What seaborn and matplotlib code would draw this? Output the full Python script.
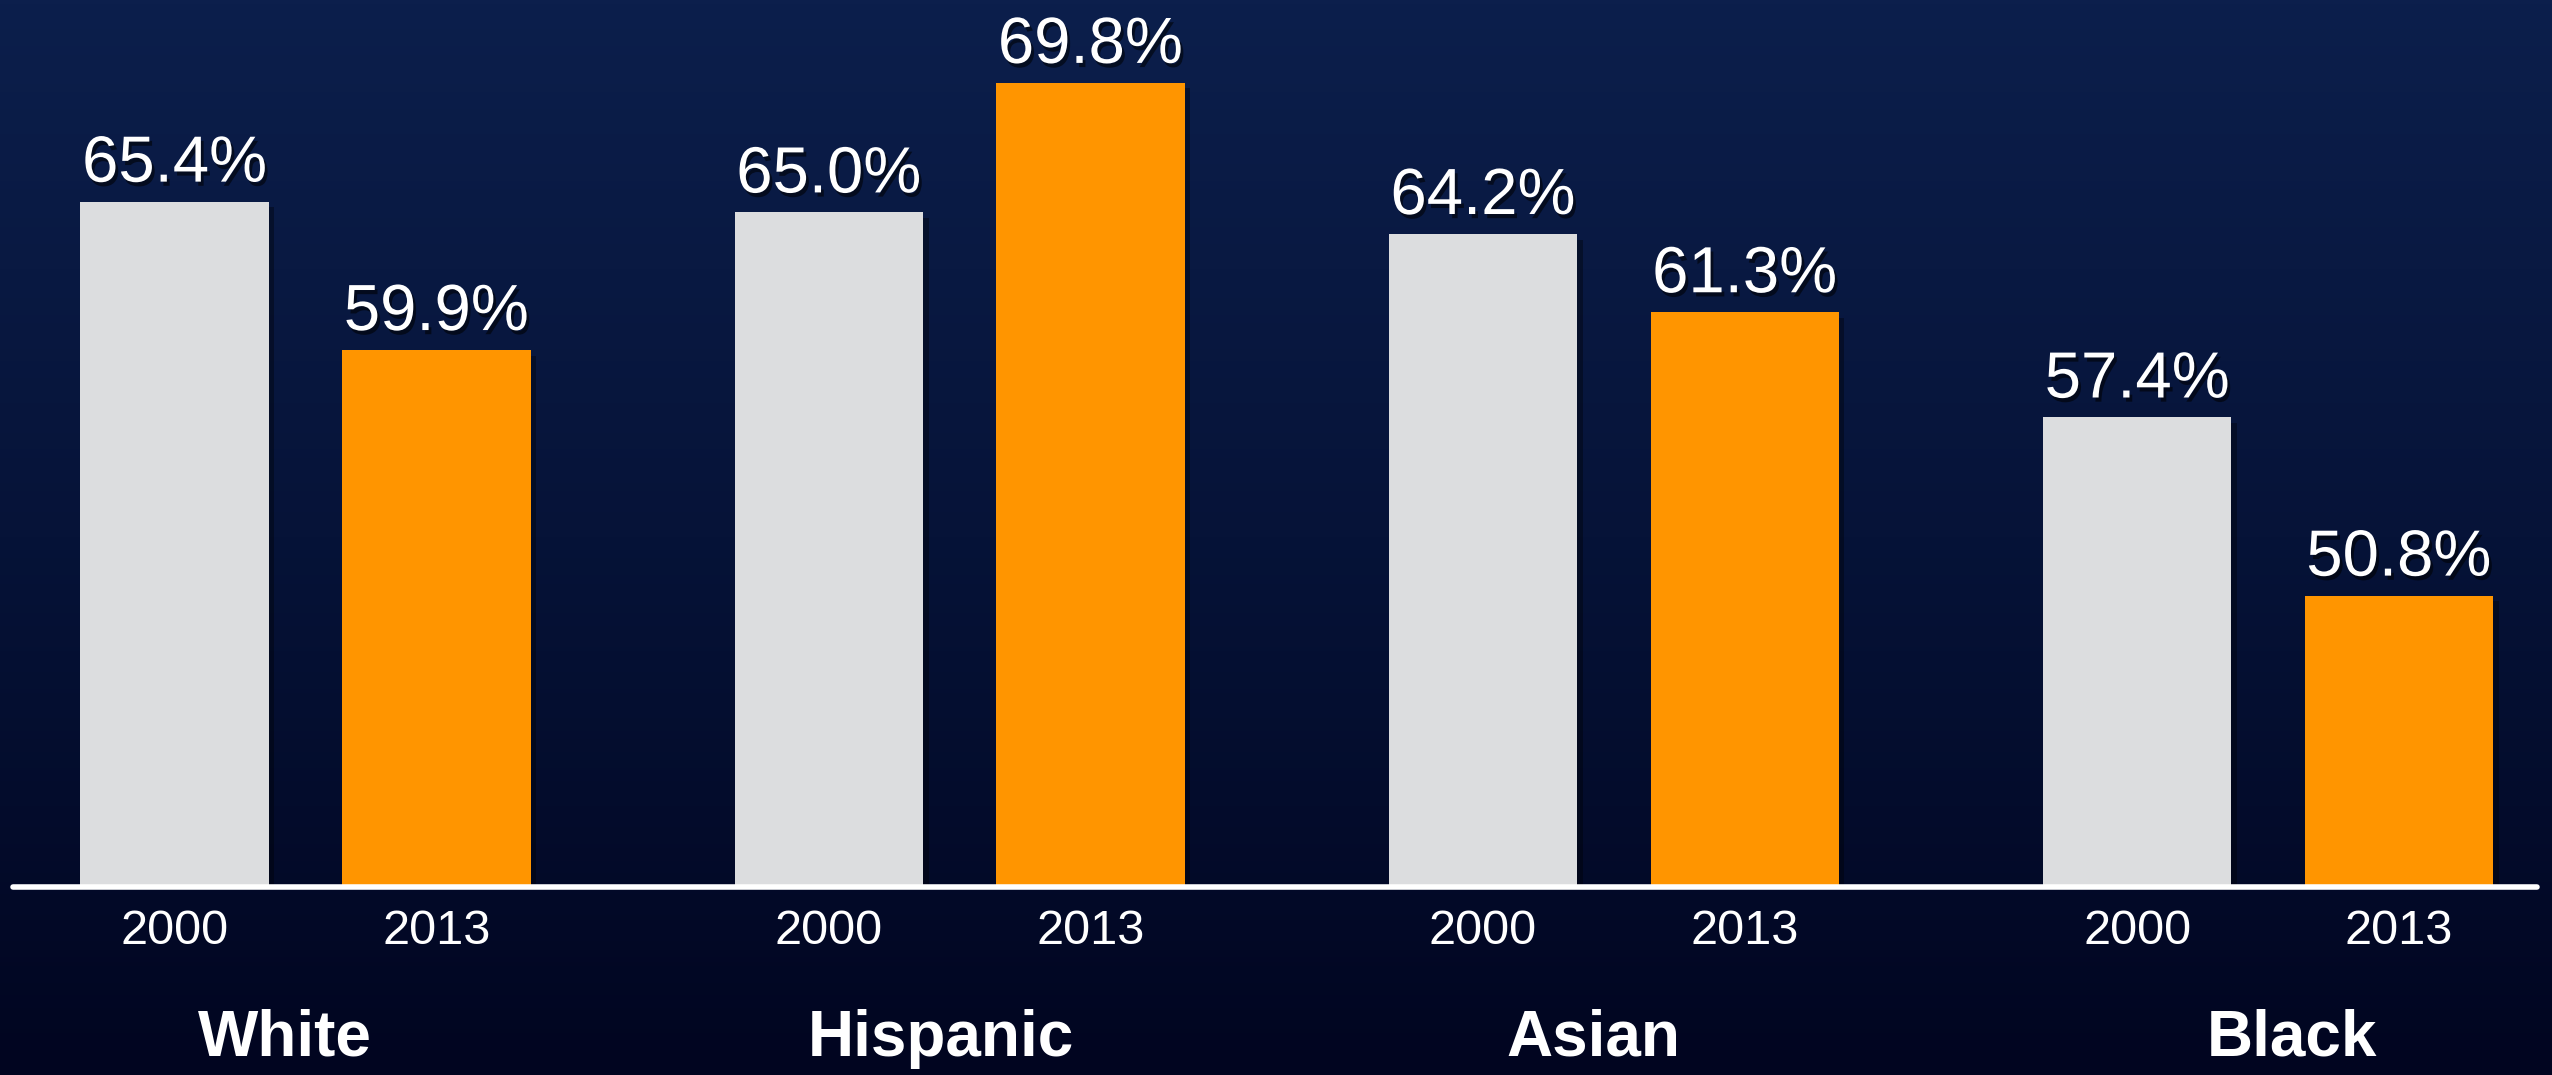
import numpy as np
import pandas as pd
import seaborn as sns
import matplotlib.pyplot as plt
import matplotlib.patheffects as pe
from matplotlib.colors import LinearSegmentedColormap
from matplotlib.transforms import blended_transform_factory

groups = ["White", "Hispanic", "Asian", "Black"]
years = ["2000", "2013"]
values_2000 = [65.4, 65.0, 64.2, 57.4]
values_2013 = [59.9, 69.8, 61.3, 50.8]
colors = {"2000": "#dcdddf", "2013": "#ff9500"}

df = pd.DataFrame({
    "group": groups * 2,
    "year": ["2000"] * len(groups) + ["2013"] * len(groups),
    "value": values_2000 + values_2013,
})

sns.set_theme(style="white")
plt.rcParams["font.family"] = ["Liberation Sans", "DejaVu Sans"]

fig = plt.figure(figsize=(25.52, 10.75), dpi=100)

# gradient background
bg = fig.add_axes([0, 0, 1, 1], zorder=0)
cmap = LinearSegmentedColormap.from_list("bg", ["#0c1f4c", "#061338", "#010520"])
bg.imshow(np.linspace(0, 1, 256).reshape(-1, 1), aspect="auto", cmap=cmap,
          extent=[0, 1, 0, 1], origin="upper")
bg.set_axis_off()

ax = fig.add_axes([0, 0.1749, 1, 0.8251], zorder=1)
ax.patch.set_alpha(0)

sns.barplot(data=df, x="group", y="value", hue="year", hue_order=years,
            palette=colors, width=0.8, gap=0.28, saturation=1,
            legend=False, ax=ax)

ax.set_ylim(40, 72.87)
ax.set_xlim(-0.467, 3.434)
ax.set_xticks([])
ax.set_yticks([])
ax.set_xlabel("")
ax.set_ylabel("")
for s in ax.spines.values():
    s.set_visible(False)

shadow = [pe.SimplePatchShadow(offset=(2, -3), shadow_rgbFace="black", alpha=0.55), pe.Normal()]
bar_shadow = [pe.SimplePatchShadow(offset=(4, -4), shadow_rgbFace="black", alpha=0.35), pe.Normal()]

trans = blended_transform_factory(ax.transData, ax.transAxes)
for cont, yr in zip(ax.containers, years):
    for p in cont.patches:
        p.set_edgecolor("none")
        p.set_path_effects(bar_shadow)
        cx = p.get_x() + p.get_width() / 2
        ax.text(cx, -0.0505, yr, transform=trans, ha="center", va="center",
                color="white", fontsize=35)
    labels = ax.bar_label(cont, fmt="%.1f%%", padding=5, color="white", fontsize=47)
    for t in labels:
        t.set_path_effects(shadow)

# group names sit slightly off-centre in the original slide
label_shift = [-0.032, -0.029, -0.031, 0.037]
for i, g in enumerate(groups):
    ax.text(i + label_shift[i], -0.171, g, transform=trans, ha="center", va="center",
            color="white", fontsize=46, fontweight="bold")

ax.axhline(40, xmin=13 / 2552, xmax=2537 / 2552, color="white", lw=4, clip_on=False, zorder=5)

fig.savefig("out.png", dpi=100)
